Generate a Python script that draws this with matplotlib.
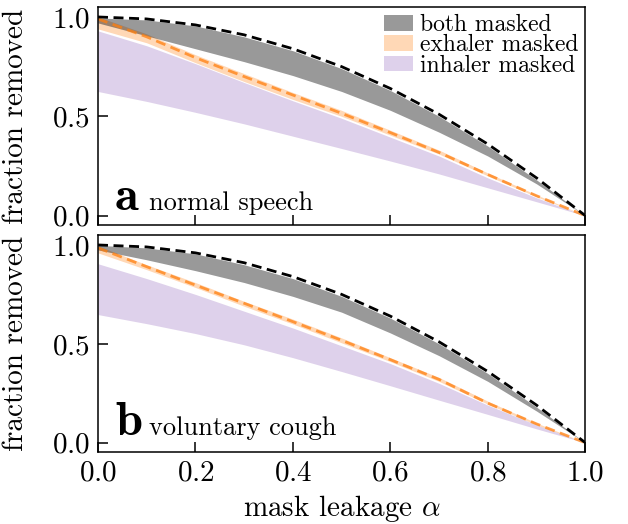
import matplotlib
matplotlib.use("Agg")
from matplotlib import pyplot as plt

plt.rcParams["font.family"] = ["cmr10", "DejaVu Serif"]
plt.rcParams["mathtext.fontset"] = "cm"
plt.rcParams["axes.formatter.use_mathtext"] = True

# mask leakage values where the curves were read
alpha = [0.0, 0.1, 0.2, 0.3, 0.4, 0.5, 0.6, 0.7, 0.8, 0.9, 1.0]

# black dashed reference (same in both panels)
ref_black = [1.0, 0.99, 0.96, 0.91, 0.84, 0.75, 0.64, 0.51, 0.36, 0.19, 0.0]

# panel a: normal speech
a_both_hi = [0.995, 0.985, 0.955, 0.90, 0.83, 0.74, 0.63, 0.50, 0.35, 0.18, 0.0]
a_both_lo = [0.97, 0.905, 0.84, 0.775, 0.705, 0.625, 0.53, 0.42, 0.30, 0.16, 0.0]
a_exh_hi = [1.0, 0.915, 0.81, 0.715, 0.62, 0.53, 0.43, 0.33, 0.215, 0.105, 0.0]
a_exh_lo = [0.94, 0.87, 0.77, 0.675, 0.585, 0.50, 0.405, 0.31, 0.20, 0.095, 0.0]
a_exh_line = [0.99, 0.90, 0.795, 0.70, 0.607, 0.515, 0.418, 0.318, 0.207, 0.10, 0.0]
a_inh_hi = [0.93, 0.855, 0.765, 0.67, 0.578, 0.49, 0.395, 0.30, 0.19, 0.09, 0.0]
a_inh_lo = [0.625, 0.575, 0.52, 0.462, 0.40, 0.338, 0.275, 0.21, 0.14, 0.07, 0.0]

# panel b: voluntary cough
b_both_hi = [0.998, 0.985, 0.955, 0.90, 0.83, 0.74, 0.63, 0.50, 0.35, 0.18, 0.0]
b_both_lo = [0.975, 0.925, 0.87, 0.81, 0.74, 0.66, 0.555, 0.44, 0.31, 0.16, 0.0]
b_exh_hi = [0.995, 0.90, 0.81, 0.715, 0.625, 0.53, 0.43, 0.33, 0.21, 0.10, 0.0]
b_exh_lo = [0.96, 0.875, 0.785, 0.69, 0.60, 0.505, 0.41, 0.31, 0.195, 0.09, 0.0]
b_exh_line = [0.985, 0.89, 0.797, 0.705, 0.612, 0.518, 0.42, 0.32, 0.20, 0.095, 0.0]
b_inh_hi = [0.905, 0.83, 0.75, 0.665, 0.58, 0.49, 0.40, 0.30, 0.19, 0.09, 0.0]
b_inh_lo = [0.648, 0.602, 0.552, 0.495, 0.43, 0.36, 0.288, 0.215, 0.143, 0.07, 0.0]

labels = ["both masked", "exhaler masked", "inhaler masked"]

fig = plt.figure(figsize=(6.28, 5.24), dpi=100)
ax1 = fig.add_axes([0.156, 0.5706, 0.776, 0.416])
ax2 = fig.add_axes([0.156, 0.1374, 0.776, 0.414])


def draw_panel(ax, both_hi, both_lo, exh_hi, exh_lo, exh_line, inh_hi, inh_lo):
    ax.fill_between(alpha, inh_lo, inh_hi, color="#9467bd", alpha=0.3,
                    lw=0, label=labels[2])
    ax.fill_between(alpha, exh_lo, exh_hi, color="#ff7f0e", alpha=0.3,
                    lw=0, label=labels[1])
    ax.fill_between(alpha, both_lo, both_hi, color="k", alpha=0.4,
                    lw=0, label=labels[0])
    ax.plot(alpha, exh_line, ls="--", color="#ff7f0e", alpha=0.75, lw=2,
            dashes=(3.6, 2.0))
    ax.plot(alpha, ref_black, ls="--", color="k", lw=2, dashes=(3.6, 2.0))

    ax.set_xlim(0, 1)
    ax.set_ylim(-0.047, 1.05)
    ax.set_yticks([0.0, 0.5, 1.0])
    ax.set_xticks([0.0, 0.2, 0.4, 0.6, 0.8, 1.0])
    ax.tick_params(direction="in", length=7, width=1.1, labelsize=21,
                   top=False, right=False, pad=6)
    for s in ax.spines.values():
        s.set_linewidth(1.1)
    ax.set_ylabel("fraction removed", fontsize=21)
    ax.yaxis.set_label_coords(-0.142, 0.5)


draw_panel(ax1, a_both_hi, a_both_lo, a_exh_hi, a_exh_lo, a_exh_line,
           a_inh_hi, a_inh_lo)
draw_panel(ax2, b_both_hi, b_both_lo, b_exh_hi, b_exh_lo, b_exh_line,
           b_inh_hi, b_inh_lo)

ax1.tick_params(labelbottom=False)
ax2.set_xlabel(r"mask leakage $\alpha$", fontsize=21)
ax2.xaxis.set_label_coords(0.5, -0.19)

handles, labs = ax1.get_legend_handles_labels()
order = [2, 1, 0]
ax1.legend([handles[i] for i in order], [labs[i] for i in order],
           loc="upper right", frameon=False, fontsize=17,
           handlelength=1.2, handleheight=0.65, handletextpad=0.3,
           labelspacing=-0.08, borderaxespad=0.1, borderpad=0.2)

for ax, letter, name, yb in [(ax1, "a", "normal speech", 0.069),
                             (ax2, "b", "voluntary cough", 0.08)]:
    ax.text(0.035, yb, letter, transform=ax.transAxes, fontsize=35,
            family="cmb10", va="baseline")
    ax.text(0.105, yb, name, transform=ax.transAxes, fontsize=19,
            va="baseline")

fig.savefig("out.png", dpi=100)
